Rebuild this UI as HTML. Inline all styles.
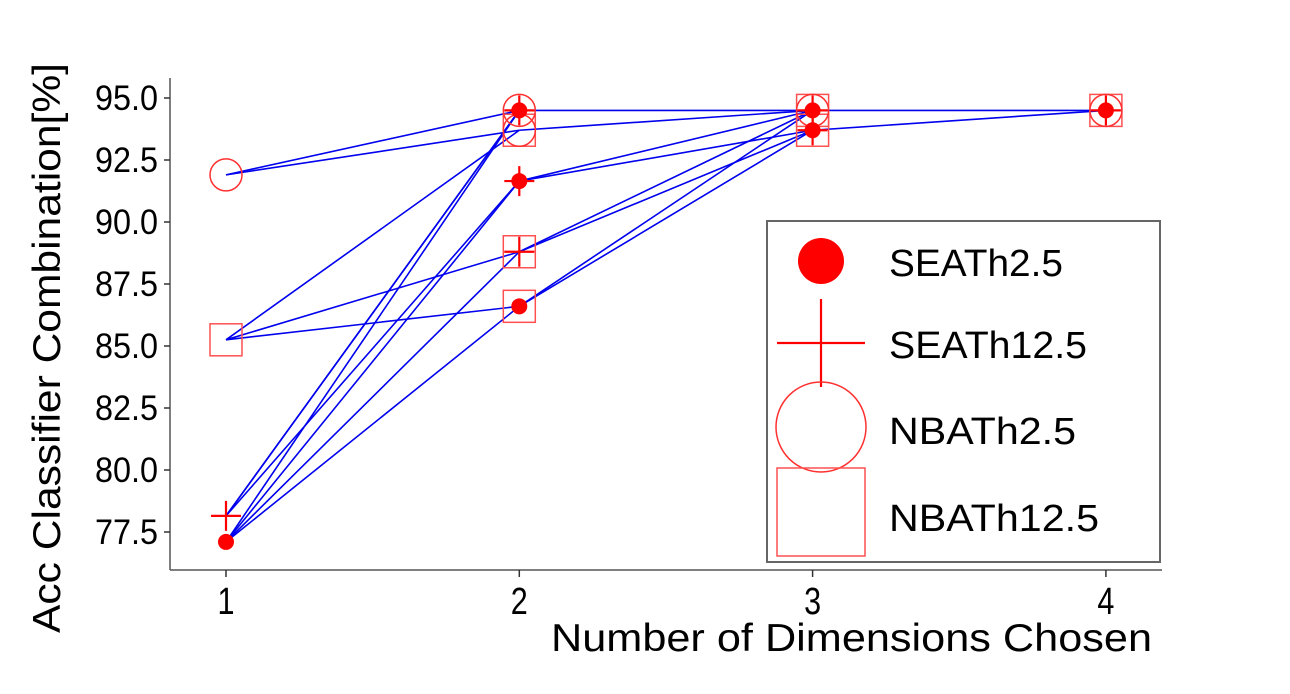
<!DOCTYPE html>
<html><head><meta charset="utf-8"><style>
html,body{margin:0;padding:0;background:#fff;}
svg{display:block;font-family:"Liberation Sans",sans-serif;}
</style></head><body>
<svg id="chart" width="1290" height="694" viewBox="0 0 1290 694" xmlns="http://www.w3.org/2000/svg">
<g id="lines"></g>
<g id="marks"></g>
<g id="axes"></g>
<g id="legend"></g>
</svg>
<script>
const xTicks=[1,2,3,4];
const yTicks=[77.5,80.0,82.5,85.0,87.5,90.0,92.5,95.0];
// markers: [dimension, accuracy]
const seath25=[[1,77.1],[2,94.5],[2,91.65],[2,86.6],[3,94.5],[3,93.7],[4,94.5]];
const seath125=[[1,78.15],[2,94.5],[2,91.65],[2,88.8],[3,94.5],[3,93.7],[4,94.5]];
const nbath25=[[1,91.9],[2,94.5],[2,93.7],[3,94.5],[4,94.5]];
const nbath125=[[1,85.25],[2,93.7],[2,88.8],[2,86.6],[3,94.5],[3,93.7],[4,94.5]];
// segments: [x1,y1,x2,y2]
const segments=[
[1,91.9,2,94.5],[1,91.9,2,93.7],
[1,85.25,2,93.7],[1,85.25,2,88.8],[1,85.25,2,86.6],
[1,78.15,2,94.5],[1,78.15,2,94.5],[1,78.15,2,91.65],
[1,77.1,2,94.5],[1,77.1,2,91.65],[1,77.1,2,88.8],[1,77.1,2,86.6],
[2,94.5,3,94.5],[2,93.7,3,94.5],[2,91.65,3,94.5],[2,91.65,3,93.7],
[2,88.8,3,94.5],[2,88.8,3,93.7],[2,86.6,3,94.5],[2,86.6,3,93.7],
[3,94.5,4,94.5],[3,93.7,4,94.5]];
const NS="http://www.w3.org/2000/svg";
const X=v=>226+(v-1)*293.3;
const Y=v=>98+(95-v)*24.8;
function mk(tag,attrs,parent,text){const e=document.createElementNS(NS,tag);for(const k in attrs)e.setAttribute(k,attrs[k]);if(text!==undefined)e.textContent=text;parent.appendChild(e);return e;}
const L=document.getElementById('lines'),M=document.getElementById('marks'),A=document.getElementById('axes'),G=document.getElementById('legend');
segments.forEach(s=>{const e=mk('line',{x1:X(s[0]),y1:Y(s[1]),x2:X(s[2]),y2:Y(s[3]),stroke:'#0000ee','stroke-width':1.6},L);

});
function sq(cx,cy,s,p){return mk('rect',{x:cx-s/2,y:cy-s/2,width:s,height:s,fill:'none',stroke:'#ff5050','stroke-width':1.5},p);}
function ci(cx,cy,r,p){return mk('circle',{cx:cx,cy:cy,r:r,fill:'none',stroke:'#ff3030','stroke-width':1.5},p);}
function pl(cx,cy,a,p){return mk('path',{d:`M${cx-a} ${cy}H${cx+a}M${cx} ${cy-a}V${cy+a}`,stroke:'#ff0000','stroke-width':2.2,fill:'none'},p);}
function dot(cx,cy,r,p){return mk('circle',{cx:cx,cy:cy,r:r,fill:'#ff0000'},p);}
nbath125.forEach(d=>{const e=sq(X(d[0]),Y(d[1]),32,M);

});
nbath25.forEach(d=>{const e=ci(X(d[0]),Y(d[1]),16,M);

});
seath25.forEach(d=>{const e=dot(X(d[0]),Y(d[1]),8,M);

});
seath125.forEach(d=>{const e=pl(X(d[0]),Y(d[1]),15,M);

});
// axes
mk('line',{x1:170,y1:78,x2:170,y2:570,stroke:'#555','stroke-width':1.5},A);
mk('line',{x1:170,y1:570,x2:1162,y2:570,stroke:'#555','stroke-width':1.5},A);
yTicks.forEach(v=>{mk('line',{x1:164,y1:Y(v),x2:170,y2:Y(v),stroke:'#333','stroke-width':1.5},A);
const t=mk('text',{x:158,y:Y(v)+12,'text-anchor':'end','font-size':35,textLength:63,lengthAdjust:'spacingAndGlyphs'},A,v.toFixed(1));

});
xTicks.forEach(v=>{mk('line',{x1:X(v),y1:570,x2:X(v),y2:577,stroke:'#333','stroke-width':1.5},A);
const t=mk('text',{x:X(v),y:614,'text-anchor':'middle','font-size':38,textLength:17,lengthAdjust:'spacingAndGlyphs'},A,String(v));

});
const xt=mk('text',{x:551,y:651,'font-size':39,textLength:601,lengthAdjust:'spacingAndGlyphs'},A,'Number of Dimensions Chosen');


const yt=mk('text',{x:0,y:0,'font-size':39,textLength:570,lengthAdjust:'spacingAndGlyphs',transform:'translate(60,633) rotate(-90)'},A,'Acc Classifier Combination[%]');


// legend
mk('rect',{x:767,y:221,width:393,height:341,fill:'#fff',stroke:'#666','stroke-width':2},G);
const lx=821;
const e1=dot(lx,261,23,G);

const e2=pl(lx,343,44,G);

const e3=ci(lx,427,45,G);

const e4=sq(lx,512,88,G);

const labels=['SEATh2.5','SEATh12.5','NBATh2.5','NBATh12.5'];
const lw=[174,198,187,210];
const ly=[276,358,444,531];
labels.forEach((s,i)=>{const t=mk('text',{x:889,y:ly[i],'font-size':38,textLength:lw[i],lengthAdjust:'spacingAndGlyphs'},G,s);

});
</script>
</body></html>
